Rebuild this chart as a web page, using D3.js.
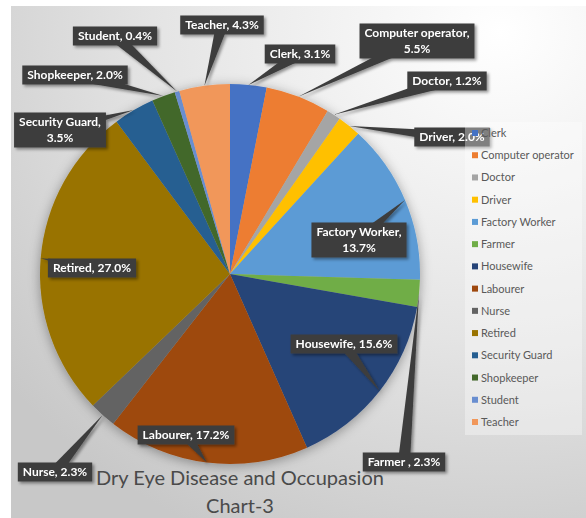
<!DOCTYPE html>
<html lang="en">
  <head>
    <meta charset="UTF-8" />
    <title>Dry Eye Disease and Occupasion Chart-3</title>
    <script src="https://d3js.org/d3.v7.min.js"></script>
    <style>
      body {
        margin: 0;
        background: #fff;
      }
      .callout text {
        font: bold 12px Lato, sans-serif;
        fill: #fff;
      }
      .legend text {
        font: 11px Lato, sans-serif;
        fill: #595959;
      }
      .title {
        font: 20px Lato, sans-serif;
        fill: #4a4a4a;
      }
    </style>
  </head>
  <body>
    <svg width="586" height="518"></svg>

    <script>
      const categories = [
        "Clerk",
        "Computer operator",
        "Doctor",
        "Driver",
        "Factory Worker",
        "Farmer",
        "Housewife",
        "Labourer",
        "Nurse",
        "Retired",
        "Security Guard",
        "Shopkeeper",
        "Student",
        "Teacher",
      ];
      const shares = [3.1, 5.5, 1.2, 2.0, 13.7, 2.3, 15.6, 17.2, 2.3, 27.0, 3.5, 2.0, 0.4, 4.3];
      const sliceColors = [
        "#4472c4", "#ed7d31", "#a5a5a5", "#ffc000", "#5b9bd5", "#70ad47", "#264478",
        "#9e480e", "#636363", "#997300", "#255e91", "#43682b", "#698ed0", "#f1975a",
      ];
      // callout text, as Excel wrote it
      const labelTexts = [
        ["Clerk, 3.1%"],
        ["Computer operator,", "5.5%"],
        ["Doctor, 1.2%"],
        ["Driver, 2.0%"],
        ["Factory Worker,", "13.7%"],
        ["Farmer , 2.3%"],
        ["Housewife, 15.6%"],
        ["Labourer, 17.2%"],
        ["Nurse, 2.3%"],
        ["Retired, 27.0%"],
        ["Security Guard,", "3.5%"],
        ["Shopkeeper, 2.0%"],
        ["Student, 0.4%"],
        ["Teacher, 4.3%"],
      ];
      // where each callout box sits (box centre)
      const labelSpots = [
        [300, 54], [417, 41], [447, 81], [452, 137], [359, 240], [404, 462], [344, 344],
        [186, 435], [55, 472], [92, 268], [60, 130], [75, 75], [115, 36], [222, 25],
      ];
      const titleLines = ["Dry Eye Disease and Occupasion", "Chart-3"];

      const width = 586;
      const height = 518;
      const cx = 230;
      const cy = 274;
      const radius = 190;

      const svg = d3.select("svg");
      const defs = svg.append("defs");

      const bg = defs
        .append("radialGradient")
        .attr("id", "bg")
        .attr("cx", "0.85")
        .attr("cy", "0.05")
        .attr("r", "1.1");
      bg.append("stop").attr("offset", "0").attr("stop-color", "#ffffff");
      bg.append("stop").attr("offset", "0.55").attr("stop-color", "#e4e4e4");
      bg.append("stop").attr("offset", "1").attr("stop-color", "#c8c8c8");

      const pieShadow = defs
        .append("filter")
        .attr("id", "pieShadow")
        .attr("x", "-20%")
        .attr("y", "-20%")
        .attr("width", "140%")
        .attr("height", "140%");
      pieShadow
        .append("feDropShadow")
        .attr("dx", 0)
        .attr("dy", 2)
        .attr("stdDeviation", 6)
        .attr("flood-color", "#000")
        .attr("flood-opacity", 0.35);

      const boxShadow = defs
        .append("filter")
        .attr("id", "boxShadow")
        .attr("x", "-20%")
        .attr("y", "-20%")
        .attr("width", "150%")
        .attr("height", "150%");
      boxShadow
        .append("feDropShadow")
        .attr("dx", 2)
        .attr("dy", 2)
        .attr("stdDeviation", 1.5)
        .attr("flood-color", "#000")
        .attr("flood-opacity", 0.4);

      svg
        .append("rect")
        .attr("x", 11)
        .attr("y", 6)
        .attr("width", width - 11)
        .attr("height", height - 6)
        .attr("fill", "url(#bg)");

      const pie = d3
        .pie()
        .sort(null)
        .value((d) => d)
        .startAngle(0)
        .endAngle(2 * Math.PI);
      const arcs = pie(shares);
      const arc = d3.arc().innerRadius(0).outerRadius(radius);

      const pieGroup = svg
        .append("g")
        .attr("transform", `translate(${cx},${cy})`)
        .attr("filter", "url(#pieShadow)");

      pieGroup
        .selectAll("path")
        .data(arcs)
        .enter()
        .append("path")
        .attr("d", arc)
        .attr("fill", (d, i) => sliceColors[i]);

      // callouts: box + tail pointing at the slice edge (mid angle)
      const callouts = svg.append("g").attr("class", "callout");
      arcs.forEach((d, i) => {
        const mid = (d.startAngle + d.endAngle) / 2;
        const ax = cx + radius * Math.sin(mid);
        const ay = cy - radius * Math.cos(mid);
        const [bx, by] = labelSpots[i];
        const lines = labelTexts[i];

        const g = callouts.append("g").attr("filter", "url(#boxShadow)");
        const tail = g.append("path").attr("fill", "#3d3d3d");
        const box = g.append("rect").attr("fill", "#3d3d3d");

        const lineH = 16;
        const text = g
          .append("text")
          .attr("text-anchor", "middle")
          .attr("x", bx);
        lines.forEach((ln, k) => {
          text
            .append("tspan")
            .attr("x", bx)
            .attr("y", by + (k - (lines.length - 1) / 2) * lineH + 4)
            .text(ln);
        });
        let tw = 0;
        text.selectAll("tspan").each(function () {
          tw = Math.max(tw, this.getComputedTextLength());
        });
        const bw = tw + 10;
        const bh = lines.length * lineH + 3;
        box
          .attr("x", bx - bw / 2)
          .attr("y", by - bh / 2)
          .attr("width", bw)
          .attr("height", bh);

        const dx = ax - bx;
        const dy = ay - by;
        const len = Math.hypot(dx, dy) || 1;
        const px = (-dy / len) * 6;
        const py = (dx / len) * 6;
        tail.attr(
          "d",
          `M${ax},${ay}L${bx + px},${by + py}L${bx - px},${by - py}Z`
        );
      });

      // legend
      const legendY = d3.scalePoint().domain(categories).range([133, 422]);
      const legend = svg.append("g").attr("class", "legend");
      legend
        .append("rect")
        .attr("x", 465)
        .attr("y", 122)
        .attr("width", 117)
        .attr("height", 313)
        .attr("fill", "#ffffff")
        .attr("fill-opacity", 0.35);
      const item = legend
        .selectAll("g")
        .data(categories)
        .enter()
        .append("g")
        .attr("transform", (d) => `translate(472,${legendY(d)})`);
      item
        .append("rect")
        .attr("x", 0)
        .attr("y", -3)
        .attr("width", 6)
        .attr("height", 6)
        .attr("fill", (d, i) => sliceColors[i]);
      item
        .append("text")
        .attr("x", 9)
        .attr("y", 4)
        .text((d) => d);

      svg
        .selectAll(".title")
        .data(titleLines)
        .enter()
        .append("text")
        .attr("class", "title")
        .attr("text-anchor", "middle")
        .attr("x", 240)
        .attr("y", (d, i) => 485 + i * 28)
        .text((d) => d);
    </script>
  </body>
</html>
